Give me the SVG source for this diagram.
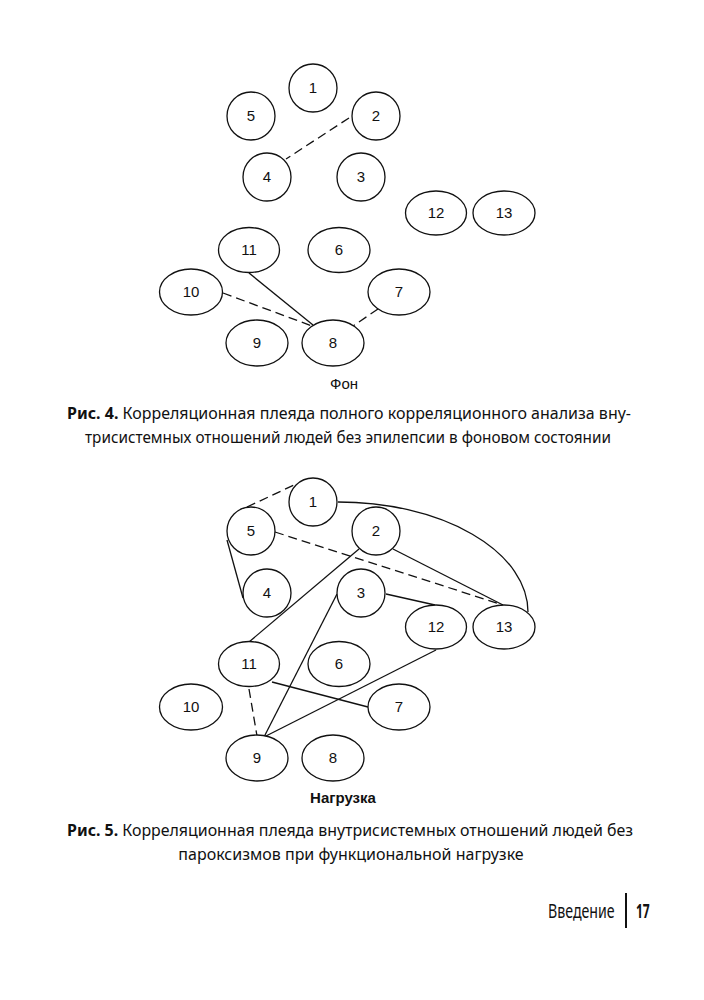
<svg xmlns="http://www.w3.org/2000/svg" width="704" height="1000" viewBox="0 0 704 1000">
<style>
.n ellipse{fill:#fff;stroke:#111;stroke-width:1.3}
.n text{font-family:"Liberation Sans",Arial,sans-serif;font-size:15px;fill:#111;text-anchor:middle}
.e path,.e line{fill:none;stroke:#111;stroke-width:1.3}
.d{stroke-dasharray:9 5}
.cap{font-family:"Noto Sans","Open Sans",sans-serif;font-size:16px;fill:#111}
.lbl{font-family:"Liberation Sans",Arial,sans-serif;font-size:15px;fill:#111;text-anchor:middle}
.ft{font-family:"Noto Sans","Open Sans",sans-serif;font-size:20px;fill:#111}
</style>
<rect width="704" height="1000" fill="#fff"/>
<!-- Figure 4 -->
<g class="e" id="edges4">
<line class="d" x1="349" y1="118" x2="286" y2="159"/>
<line x1="249" y1="273" x2="313" y2="325"/>
<line class="d" x1="223" y1="293" x2="312" y2="326"/>
<line class="d" x1="378" y1="309" x2="353" y2="326"/>
</g>
<g class="n" id="f4n1"><ellipse cx="313" cy="88" rx="24" ry="24"/><text x="313" y="93">1</text></g>
<g class="n" id="f4n5"><ellipse cx="251" cy="116" rx="24" ry="24"/><text x="251" y="121">5</text></g>
<g class="n" id="f4n2"><ellipse cx="376" cy="116" rx="24" ry="24"/><text x="376" y="121">2</text></g>
<g class="n" id="f4n4"><ellipse cx="267" cy="177" rx="24" ry="24"/><text x="267" y="182">4</text></g>
<g class="n" id="f4n3"><ellipse cx="361" cy="177" rx="24" ry="24"/><text x="361" y="182">3</text></g>
<g class="n" id="f4n12"><ellipse cx="436" cy="213" rx="30.5" ry="22"/><text x="436" y="218">12</text></g>
<g class="n" id="f4n13"><ellipse cx="504" cy="213" rx="31" ry="22"/><text x="504" y="218">13</text></g>
<g class="n" id="f4n11"><ellipse cx="249" cy="250" rx="30.5" ry="22.5"/><text x="249" y="255">11</text></g>
<g class="n" id="f4n6"><ellipse cx="339" cy="250" rx="31" ry="22.5"/><text x="339" y="255">6</text></g>
<g class="n" id="f4n10"><ellipse cx="191" cy="292" rx="31.5" ry="23"/><text x="191" y="297">10</text></g>
<g class="n" id="f4n7"><ellipse cx="399" cy="292" rx="31" ry="23"/><text x="399" y="297">7</text></g>
<g class="n" id="f4n9"><ellipse cx="257" cy="343" rx="31" ry="23"/><text x="257" y="348">9</text></g>
<g class="n" id="f4n8"><ellipse cx="333" cy="343" rx="31" ry="23"/><text x="333" y="348">8</text></g>
<text class="lbl" x="344" y="389">Фон</text>
<text class="cap" x="67" y="419" textLength="564" lengthAdjust="spacingAndGlyphs"><tspan font-weight="bold">Рис. 4.</tspan> Корреляционная плеяда полного корреляционного анализа вну-</text>
<text class="cap" x="85" y="443" textLength="526" lengthAdjust="spacingAndGlyphs">трисистемных отношений людей без эпилепсии в фоновом состоянии</text>
<!-- Figure 5 -->
<g class="e" id="edges5">
<line class="d" x1="247" y1="507" x2="294" y2="485"/>
<path d="M338 502 A190 110 0 0 1 528 612"/>
<line class="d" x1="275" y1="532" x2="503" y2="605"/>
<line x1="393" y1="549" x2="503" y2="605"/>
<line x1="359" y1="549" x2="249" y2="642"/>
<line x1="227" y1="540" x2="243" y2="598"/>
<line x1="386" y1="594" x2="435" y2="605"/>
<line x1="337" y1="594" x2="264" y2="737"/>
<line x1="436" y1="650" x2="264" y2="737"/>
<line x1="272" y1="682" x2="368" y2="707"/>
<line class="d" x1="249" y1="689" x2="257" y2="736"/>
</g>
<g class="n" id="f5n1"><ellipse cx="313" cy="502" rx="24" ry="24"/><text x="313" y="507">1</text></g>
<g class="n" id="f5n5"><ellipse cx="251" cy="531" rx="24" ry="24"/><text x="251" y="536">5</text></g>
<g class="n" id="f5n2"><ellipse cx="376" cy="531" rx="24" ry="24"/><text x="376" y="536">2</text></g>
<g class="n" id="f5n4"><ellipse cx="267" cy="593" rx="24" ry="24"/><text x="267" y="598">4</text></g>
<g class="n" id="f5n3"><ellipse cx="361" cy="593" rx="24" ry="24"/><text x="361" y="598">3</text></g>
<g class="n" id="f5n12"><ellipse cx="436" cy="627" rx="30.5" ry="22"/><text x="436" y="632">12</text></g>
<g class="n" id="f5n13"><ellipse cx="504" cy="627" rx="31" ry="22"/><text x="504" y="632">13</text></g>
<g class="n" id="f5n11"><ellipse cx="249" cy="664" rx="30.5" ry="22.5"/><text x="249" y="669">11</text></g>
<g class="n" id="f5n6"><ellipse cx="339" cy="664" rx="31" ry="22.5"/><text x="339" y="669">6</text></g>
<g class="n" id="f5n10"><ellipse cx="191" cy="707" rx="31.5" ry="23"/><text x="191" y="712">10</text></g>
<g class="n" id="f5n7"><ellipse cx="399" cy="707" rx="31" ry="23"/><text x="399" y="712">7</text></g>
<g class="n" id="f5n9"><ellipse cx="257" cy="758" rx="31" ry="23"/><text x="257" y="763">9</text></g>
<g class="n" id="f5n8"><ellipse cx="333" cy="758" rx="31" ry="23"/><text x="333" y="763">8</text></g>
<text class="lbl" x="343" y="803" font-weight="bold">Нагрузка</text>
<text class="cap" x="67" y="836" textLength="566" lengthAdjust="spacingAndGlyphs"><tspan font-weight="bold">Рис. 5.</tspan> Корреляционная плеяда внутрисистемных отношений людей без</text>
<text class="cap" x="351" y="860" text-anchor="middle">пароксизмов при функциональной нагрузке</text>
<!-- Footer -->
<text class="ft" transform="translate(548 918) scale(0.71 1)">Введение</text>
<line x1="626" y1="893" x2="626" y2="928" stroke="#111" stroke-width="2"/>
<text class="ft" font-weight="bold" transform="translate(636 918) scale(0.6 1)">17</text>
</svg>
